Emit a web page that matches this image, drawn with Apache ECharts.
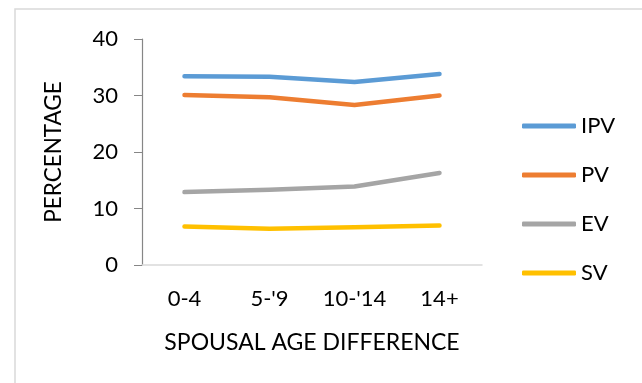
<html>
<head>
<meta charset="utf8">
<script src="https://cdn.jsdelivr.net/npm/echarts@6/dist/echarts.min.js" type="text/javascript"></script>
<title></title>
<style>
	body { margin: 0; background: #fff; }
</style>
</head>
<body>
    <div id="echarts-main" style="height:383px;width:642px;"></div>
<script type="text/javascript">
	var categories = ['0-4', "5-'9", "10-'14", '14+'];
	var ipv = [33.4, 33.3, 32.4, 33.8];
	var pv = [30.1, 29.7, 28.3, 30.0];
	var ev = [12.9, 13.3, 13.9, 16.3];
	var sv = [6.8, 6.4, 6.7, 7.0];
	var yTicks = [0, 10, 20, 30, 40];

	var font = 'Lato';
	var colors = ['#5B9BD5', '#ED7D31', '#A5A5A5', '#FFC000'];

	function makeSeries(name, data, i) {
		return {
			name: name,
			type: 'line',
			data: data,
			symbol: 'none',
			lineStyle: { color: colors[i], width: 4.5, cap: 'round', join: 'round' },
			itemStyle: { color: colors[i] }
		};
	}

	var myChart = echarts.init(document.getElementById('echarts-main'));
	var option = {
		animation: false,
		graphic: [{
			type: 'rect',
			shape: { x: 15, y: 9, width: 700, height: 500 },
			style: { fill: 'none', stroke: '#D9D9D9', lineWidth: 1.5 }
		}],
		grid: { left: 142, top: 39, width: 340, height: 226 },
		legend: {
			orient: 'vertical',
			left: 517,
			top: 110,
			itemWidth: 54,
			itemHeight: 5,
			itemGap: 27,
			icon: 'roundRect',
			textStyle: { fontFamily: font, fontSize: 22, color: '#000' },
			data: ['IPV', 'PV', 'EV', 'SV']
		},
		xAxis: {
			type: 'category',
			data: categories,
			name: 'SPOUSAL AGE DIFFERENCE',
			nameLocation: 'middle',
			nameGap: 66,
			nameTextStyle: { fontFamily: font, fontSize: 23, color: '#000' },
			axisLine: { lineStyle: { color: '#D9D9D9', width: 1.5 } },
			axisTick: { show: false },
			axisLabel: { fontFamily: font, fontSize: 22, color: '#000', margin: 23 }
		},
		yAxis: {
			type: 'value',
			min: yTicks[0],
			max: yTicks[yTicks.length - 1],
			interval: 10,
			name: 'PERCENTAGE',
			nameLocation: 'middle',
			nameGap: 77,
			nameTextStyle: { fontFamily: font, fontSize: 22.5, color: '#000' },
			axisLine: { show: true, lineStyle: { color: '#868686', width: 1.2 } },
			axisTick: { show: true, length: 8, lineStyle: { color: '#868686' } },
			splitLine: { show: false },
			axisLabel: { fontFamily: font, fontSize: 22, color: '#000', margin: 24 }
		},
		series: [
			makeSeries('IPV', ipv, 0),
			makeSeries('PV', pv, 1),
			makeSeries('EV', ev, 2),
			makeSeries('SV', sv, 3)
		]
	};
	myChart.setOption(option);
</script>
</body>
</html>
